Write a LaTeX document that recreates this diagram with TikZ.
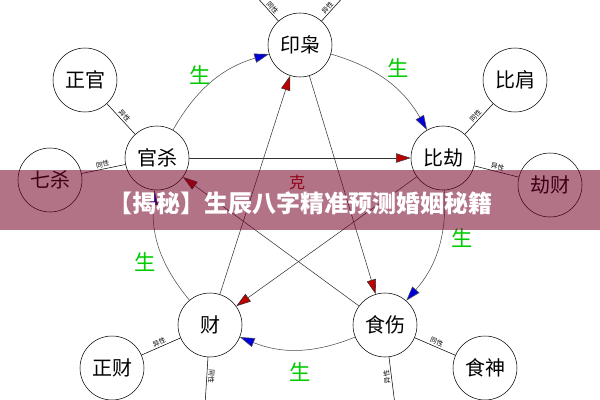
\documentclass[tikz,border=0pt]{standalone}
\usepackage{fontspec}
\setmainfont{Noto Sans CJK SC}
\usetikzlibrary{positioning,arrows.meta}
\tikzset{
  god/.style={draw, circle, fill=white, inner sep=1pt, minimum size=48pt, font=\fontsize{15}{15}\selectfont},
  ke/.style={-{Triangle[length=11pt,width=7pt,fill=red!75!black]}, draw=black!80, thin},
  shengtip/.style={-{Triangle[length=11pt,width=7pt,fill=blue!85!black]}, draw=black!70},
  tiny/.style={font=\fontsize{5}{5}\selectfont, sloped, above, inner sep=1pt},
  lbl/.style={text=green!80!black, font=\fontsize{16}{16}\selectfont}
}
\begin{document}
\begin{tikzpicture}[x=0.75pt,y=-0.75pt]
\useasboundingbox (0,0) rectangle (600,400);
\fill[white] (0,0) rectangle (600,400);
% main five
\node[god] (yx) at (300,45) {印枭};
\node[god] (bj) at (443,158) {比劫};
\node[god] (ss) at (385,325) {食伤};
\node[god] (cai) at (210,325) {财};
\node[god] (gs) at (157,158) {官杀};
% outer
\node[god] (zg) at (85,80) {正官};
\node[god] (bian) at (515,80) {比肩};
\node[god] (qs) at (50,180) {七杀};
\node[god] (jc) at (550,185) {劫财};
\node[god] (zc) at (112,368) {正财};
\node[god] (shen) at (485,368) {食神};
\coordinate (t1) at (255,-5);
\coordinate (t2) at (345,-5);
\coordinate (b1) at (205,405);
\coordinate (b2) at (395,405);
% spokes
\draw (zg) -- node[tiny]{异性} (gs);
\draw (qs) -- node[tiny]{同性} (gs);
\draw (bian) -- node[tiny]{同性} (bj);
\draw (bj) -- node[tiny]{异性} (jc);
\draw (zc) -- node[tiny]{异性} (cai);
\draw (ss) -- node[tiny]{同性} (shen);
\draw (t1) -- node[tiny,pos=0.6]{同性} (yx);
\draw (yx) -- node[tiny,pos=0.4]{异性} (t2);
\draw (cai) -- node[tiny,rotate=180,pos=0.4]{同性} (b1);
\draw (ss) -- node[tiny,rotate=180,pos=0.4]{异性} (b2);
% generating cycle
\draw[shengtip] (gs) to[bend left=22] (yx);
\draw[shengtip] (yx) to[bend left=22] (bj);
\draw[shengtip] (bj) to[bend left=22] (ss);
\draw[shengtip] (ss) to[bend left=22] (cai);
\draw[shengtip] (cai) to[bend left=22] (gs);
\node[lbl] at (200,75) {生};
\node[lbl] at (398,68) {生};
\node[lbl] at (462,238) {生};
\node[lbl] at (300,372) {生};
\node[lbl] at (145,262) {生};
% controlling star
\draw[ke] (gs) -- (bj);
\draw[ke] (cai) -- (yx);
\draw[ke] (yx) -- (ss);
\draw[ke] (bj) -- (cai);
\draw[ke] (ss) -- (gs);
\node[text=red!75!black, font=\fontsize{12}{12}\selectfont] at (297,182) {克};
% banner
\fill[fill=purple!60!black, opacity=0.55] (0,170) rectangle (600,230);
\node[text=white, font=\bfseries\fontsize{18}{18}\selectfont] (banner) at (300,203) {【揭秘】生辰八字精准预测婚姻秘籍};
\end{tikzpicture}
\end{document}
